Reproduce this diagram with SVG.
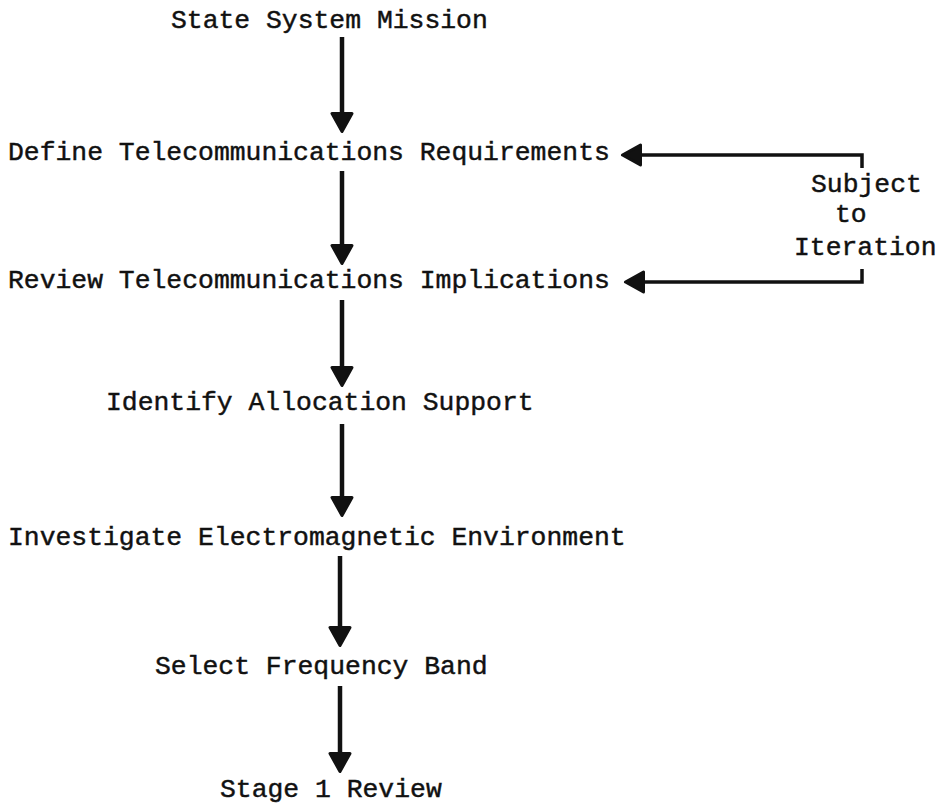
<svg xmlns="http://www.w3.org/2000/svg" width="948" height="810" viewBox="0 0 948 810">
  <style>
    .lbl { font-family: "Liberation Mono", "DejaVu Sans Mono", monospace; font-size: 26.4px; fill: #111; stroke: #111; stroke-width: 0.45; }
    .flow { fill: none; stroke: #111; stroke-width: 4.5; stroke-linecap: butt; }
    .loop { fill: none; stroke: #111; stroke-width: 3.5; stroke-linejoin: miter; }
  </style>
  <defs>
    <!-- rounded, filled arrowhead; its base sits on the end of the line -->
    <marker id="head" viewBox="0 0 22 24" refX="1" refY="12" markerWidth="22" markerHeight="24" markerUnits="userSpaceOnUse" orient="auto">
      <path d="M1.5,2 L19.5,12 L1.5,22 Z" fill="#111" stroke="#111" stroke-width="3" stroke-linejoin="round"/>
    </marker>
  </defs>
  <rect width="948" height="810" fill="#fff"/>

  <g id="connectors">
    <path class="flow" d="M342,37 V113" marker-end="url(#head)"/>
    <path class="flow" d="M342,171 V245" marker-end="url(#head)"/>
    <path class="flow" d="M342,300 V367" marker-end="url(#head)"/>
    <path class="flow" d="M342,424 V497" marker-end="url(#head)"/>
    <path class="flow" d="M340,556 V627" marker-end="url(#head)"/>
    <path class="flow" d="M340,686 V753" marker-end="url(#head)"/>
    <path class="loop" d="M862,168 V155 H641" marker-end="url(#head)"/>
    <path class="loop" d="M862,269 V282 H644" marker-end="url(#head)"/>
  </g>

  <g id="mission"><text class="lbl" x="171" y="28">State System Mission</text></g>
  <g id="define"><text class="lbl" x="8" y="160">Define Telecommunications Requirements</text></g>
  <g id="review"><text class="lbl" x="8" y="288">Review Telecommunications Implications</text></g>
  <g id="identify"><text class="lbl" x="106" y="410">Identify Allocation Support</text></g>
  <g id="investigate"><text class="lbl" x="8" y="545">Investigate Electromagnetic Environment</text></g>
  <g id="select"><text class="lbl" x="155" y="674">Select Frequency Band</text></g>
  <g id="stage1"><text class="lbl" x="220" y="797">Stage 1 Review</text></g>
  <g id="iteration">
    <text class="lbl" x="811" y="192">Subject</text>
    <text class="lbl" x="835" y="222">to</text>
    <text class="lbl" x="794" y="255">Iteration</text>
  </g>
</svg>
